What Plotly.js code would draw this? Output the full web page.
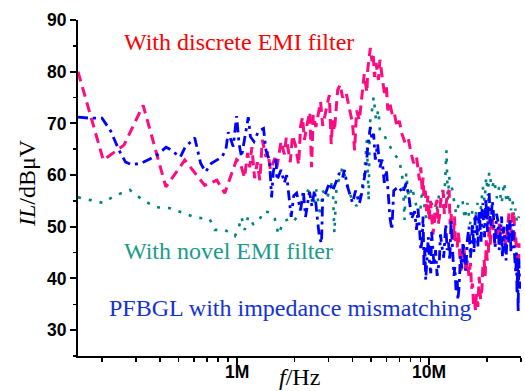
<!DOCTYPE html>
<html><head><meta charset="utf-8">
<script src="https://cdn.plot.ly/plotly-3.0.1.min.js"></script>
<style>body{margin:0;background:#fff}#chart{width:525px;height:391px}</style>
</head><body><div id="chart"></div>
<script>
// Frequencies in MHz, insertion level in dBuV
const discreteFreqMHz = [
  0.150, 0.203, 0.260, 0.327, 0.429, 0.538, 0.683, 0.790, 0.867, 0.930,
  1.00, 1.04, 1.10, 1.14, 1.17, 1.20, 1.24, 1.28, 1.32, 1.36,
  1.42, 1.45, 1.50, 1.58, 1.62, 1.70, 1.77, 1.81, 1.86, 1.90,
  1.95, 2.02, 2.10, 2.15, 2.20, 2.25, 2.32, 2.40, 2.45, 2.50,
  2.58, 2.65, 2.73, 2.80, 2.86, 2.95, 3.03, 3.10, 3.15, 3.22,
  3.35, 3.45, 3.55, 3.70, 3.85, 4.00, 4.10, 4.20, 4.34, 4.45,
  4.60, 4.75, 4.80, 4.95, 5.05, 5.12, 5.20, 5.30, 5.45, 5.55,
  5.70, 5.85, 6.00, 6.10, 6.25, 6.45, 6.60, 6.80, 7.00, 7.20,
  7.50, 7.80, 8.00, 8.30, 8.60,
  8.90, 9.05, 9.20, 9.30, 9.40, 9.55, 9.70, 9.85, 10.0, 10.15,
  10.3, 10.45, 10.6, 10.8, 11.0, 11.15, 11.3, 11.55, 11.8, 12.0,
  12.2, 12.45, 12.7, 12.85, 13.0, 13.2, 13.4, 13.55, 13.7, 14.0,
  14.15, 14.3, 14.55, 14.8, 15.0, 15.2, 15.5, 15.8, 16.1, 16.4,
  16.6, 16.8, 17.0, 17.2, 17.4, 17.6, 17.9, 18.2, 18.5, 18.8,
  19.0, 19.3, 19.55, 19.8, 20.0, 20.3, 20.5, 20.75, 21.0, 21.25,
  21.5, 22.0, 22.5, 22.8, 23.1, 23.5, 24.0, 24.5, 25.0, 25.5,
  26.0, 26.4, 26.8, 27.2, 27.6, 27.9, 28.2, 28.4, 28.6, 28.8,
  29.0, 29.3
];
const discreteDb = [
  80.0, 62.9, 65.8, 73.5, 57.7, 62.9, 58.0, 59.0, 56.5, 59.6,
  63.0, 62.5, 59.5, 64.3, 61.5, 65.4, 59.4, 62.5, 59.0, 66.8,
  63.5, 64.5, 61.0, 63.3, 61.5, 66.5, 64.0, 67.2, 64.5, 62.5,
  67.7, 65.8, 62.0, 69.5, 71.2, 66.8, 69.7, 72.2, 61.5, 71.6,
  69.3, 72.0, 74.2, 69.5, 71.0, 73.0, 75.5, 66.0, 70.6, 68.5,
  76.5, 77.5, 75.0, 76.0, 73.0, 70.0, 64.8, 72.5, 70.6, 74.0,
  79.5, 76.0, 80.5, 84.6, 82.0, 83.5, 79.0, 81.7, 78.4, 82.3,
  78.4, 75.9, 77.0, 72.5, 73.9, 71.5, 72.0, 69.3, 70.5, 68.1,
  66.2, 67.0, 64.8, 62.3, 63.5,
  59.0, 61.5, 57.0, 59.5, 55.7, 57.0, 53.0, 56.0, 51.3, 55.0,
  52.6, 48.5, 50.0, 54.0, 55.2, 50.5, 51.9, 56.0, 57.1, 52.5,
  53.8, 56.5, 57.1, 50.5, 52.6, 47.5, 48.8, 52.0, 46.5, 46.1,
  49.0, 47.4, 41.5, 42.2, 46.5, 45.5, 41.0, 43.5, 40.5, 43.0,
  38.0, 39.0, 35.0, 35.8, 33.9, 37.0, 34.5, 40.3, 36.0, 38.0,
  42.0, 43.5, 40.5, 47.4, 43.5, 44.5, 51.9, 46.5, 48.8, 52.0,
  49.5, 46.5, 47.4, 50.5, 50.7, 46.5, 48.0, 50.0, 46.5, 49.4,
  52.6, 48.0, 50.0, 53.0, 51.9, 47.0, 48.0, 44.0, 41.6, 44.5,
  39.0, 46.8
];

const pfbglFreqMHz = [
  0.150, 0.175, 0.200, 0.222, 0.245, 0.265, 0.285, 0.320, 0.354, 0.390,
  0.430, 0.450, 0.510, 0.540, 0.606, 0.630, 0.650, 0.690, 0.740, 0.840,
  0.880, 0.905, 0.930, 0.960, 1.00, 1.03, 1.06, 1.09, 1.15, 1.18,
  1.23, 1.30, 1.38, 1.42, 1.48, 1.52, 1.55, 1.60, 1.62, 1.70,
  1.77, 1.82, 1.88, 1.92, 1.98, 2.05, 2.15, 2.22, 2.28, 2.39,
  2.46, 2.54, 2.62, 2.69, 2.76, 2.80, 2.90, 3.03, 3.15, 3.30,
  3.42, 3.55, 3.63, 3.75, 3.85, 4.00, 4.15, 4.34, 4.50, 4.70,
  4.80, 4.95, 5.05, 5.15, 5.25, 5.40, 5.55, 5.70, 5.85, 6.00,
  6.15, 6.25, 6.40, 6.55, 6.95, 7.30, 7.60, 7.90, 8.10, 8.40,
  8.60, 8.75, 8.90, 9.05, 9.20, 9.30, 9.40, 9.50, 9.60, 9.75,
  9.90, 10.05, 10.2, 10.3, 10.4, 10.6, 10.8, 11.0, 11.3, 11.45,
  11.6, 11.9, 12.2, 12.4, 12.6, 12.8, 13.0, 13.15, 13.3, 13.45,
  13.6, 13.8, 14.0, 14.1, 14.3, 14.55, 14.8, 15.0, 15.2, 15.5,
  15.8, 16.1, 16.4, 16.8, 17.1, 17.35, 17.6, 17.9, 18.2, 18.4,
  18.6, 18.8, 19.0, 19.2, 19.4, 19.7, 19.9, 20.1, 20.3, 20.5,
  20.75, 21.0, 21.25, 21.5, 21.75, 22.0, 22.4, 22.8, 23.1, 23.5,
  23.8, 24.0, 24.4, 24.8, 25.1, 25.5, 25.9, 26.3, 26.6, 27.0,
  27.3, 27.6, 27.9, 28.2, 28.4, 28.6, 28.8, 29.0, 29.2, 29.3,
  29.6
];
const pfbglDb = [
  71.2, 71.0, 71.0, 68.5, 64.8, 62.5, 62.0, 62.3, 63.1, 64.0,
  65.4, 65.0, 63.5, 65.4, 67.2, 64.5, 62.3, 60.6, 62.3, 63.5,
  65.0, 68.3, 66.8, 65.5, 71.4, 66.0, 63.5, 66.0, 71.2, 67.4,
  66.5, 68.5, 69.0, 64.8, 62.9, 55.7, 60.5, 63.5, 59.0, 61.0,
  58.5, 60.0, 55.7, 51.9, 56.0, 56.5, 53.2, 57.0, 51.9, 56.8,
  54.0, 57.1, 52.0, 48.0, 46.8, 55.5, 56.5, 58.5, 56.9, 59.0,
  60.4, 59.5, 61.0, 58.0, 56.5, 54.6, 57.0, 54.5, 57.0, 61.5,
  65.4, 69.3, 66.8, 68.0, 63.0, 66.0, 61.5, 63.0, 58.5, 61.0,
  55.7, 51.9, 49.4, 57.0, 57.8, 56.5, 58.5, 55.2, 51.5, 53.0,
  49.4, 53.5, 50.0, 45.5, 47.5, 52.0, 42.2, 46.0, 39.7, 44.5,
  48.0, 43.0, 41.0, 49.0, 47.0, 42.5, 45.5, 40.5, 43.5, 48.5,
  46.8, 44.0, 50.5, 45.5, 47.0, 43.5, 51.3, 47.5, 46.0, 40.5,
  42.2, 37.5, 39.7, 35.8, 38.3, 44.5, 42.0, 47.0, 45.3, 41.5,
  47.5, 50.0, 44.0, 50.7, 45.0, 51.5, 52.5, 46.0, 53.2, 49.0,
  47.0, 53.0, 54.6, 50.5, 48.0, 55.5, 51.0, 49.0, 54.0, 56.5,
  51.5, 50.0, 55.0, 53.8, 49.0, 46.0, 52.5, 51.0, 45.5, 49.4,
  52.0, 44.0, 50.0, 47.0, 43.5, 50.5, 47.0, 51.3, 45.0, 48.5,
  50.5, 46.0, 43.0, 41.0, 45.0, 37.0, 42.0, 33.5, 44.0, 41.5,
  38.0
];

const novelFreqMHz = [
  0.150, 0.173, 0.203, 0.232, 0.279, 0.325, 0.380, 0.450, 0.530, 0.610,
  0.725, 0.770, 0.867, 0.980, 1.02, 1.06, 1.10, 1.15, 1.22, 1.30,
  1.38, 1.48, 1.58, 1.65, 1.75, 1.87, 1.98, 2.10, 2.20, 2.30,
  2.40, 2.50, 2.60, 2.72, 2.80, 2.95, 3.15, 3.22, 3.30, 3.55,
  3.70, 3.95, 4.20, 4.40, 4.60, 4.75, 4.85, 4.92, 5.05, 5.15,
  5.30, 5.45, 5.55, 5.80, 6.00, 6.30, 6.60, 7.00, 7.30, 7.45,
  7.60, 7.88, 8.10, 8.40, 8.60, 9.00, 9.20, 9.40, 9.70, 10.3,
  10.8, 11.3, 11.8, 12.1, 12.3, 12.5, 12.7, 13.2, 13.8, 14.3,
  14.9, 15.3, 15.8, 16.3, 16.8, 17.3, 17.8, 18.4, 19.0, 19.4,
  19.8, 20.2, 20.5, 21.2, 21.8, 22.5, 23.1, 23.8, 24.5, 25.3,
  26.0, 26.6, 27.1, 27.6, 28.1, 28.6, 29.3
];
const novelDb = [
  55.7, 55.2, 54.6, 56.0, 57.1, 55.2, 53.8, 53.6, 52.6, 51.8,
  51.5, 49.4, 49.4, 48.2, 49.5, 51.9, 49.4, 52.0, 50.5, 51.0,
  53.0, 52.8, 51.5, 48.5, 51.0, 51.5, 51.0, 52.5, 54.6, 57.1,
  56.8, 54.0, 57.2, 52.0, 57.0, 55.5, 59.0, 48.8, 57.5, 61.5,
  59.0, 55.5, 54.0, 56.0, 60.0, 66.8, 55.0, 70.0, 72.6, 75.1,
  70.6, 72.6, 68.5, 68.0, 66.8, 65.5, 64.0, 62.9, 59.0, 51.3,
  60.4, 54.6, 57.7, 55.7, 53.8, 53.2, 57.1, 54.6, 51.3, 54.6,
  52.0, 56.5, 53.5, 58.5, 64.8, 55.0, 59.6, 57.1, 52.5, 54.6,
  55.2, 51.5, 54.6, 50.5, 53.2, 51.0, 54.6, 52.0, 57.7, 55.0,
  59.6, 56.0, 60.6, 57.5, 59.0, 55.5, 57.7, 54.5, 58.6, 54.6,
  56.5, 53.2, 55.0, 51.9, 53.5, 50.7, 52.0
];

const xTickVals = [1e6, 1e7];
const xTickText = ['1M', '10M'];
const xMinorVals = [2e5,3e5,4e5,5e5,6e5,7e5,8e5,9e5,2e6,3e6,4e6,5e6,6e6,7e6,8e6,9e6,2e7,3e7];
const yTickVals = [30, 40, 50, 60, 70, 80, 90];

const toHz = a => a.map(f => f * 1e6);

const traces = [
  {x: toHz(novelFreqMHz), y: novelDb, type: 'scatter', mode: 'lines',
   line: {color: '#008080', width: 2.6, dash: '3px,8px'}, hoverinfo: 'skip'},
  {x: toHz(discreteFreqMHz), y: discreteDb, type: 'scatter', mode: 'lines',
   line: {color: '#ff0a80', width: 3, dash: '10px,6px'}, hoverinfo: 'skip'},
  {x: toHz(pfbglFreqMHz), y: pfbglDb, type: 'scatter', mode: 'lines',
   line: {color: '#0000ff', width: 2.8, dash: '10px,5px,3px,5px'}, hoverinfo: 'skip'}
];

const tickFont = {family: 'Liberation Sans, Arial, sans-serif', size: 17.5, weight: 'bold', color: '#000'};
const serif = 'Liberation Serif, Times New Roman, serif';

// x tick labels placed at the axis tick values (log-axis annotation coordinates)
const xTickLabelAnnotations = xTickVals.map((v, i) => ({
  text: xTickText[i], xref: 'x', yref: 'paper', x: Math.log10(v), y: -0.049,
  showarrow: false, xanchor: 'center', yanchor: 'middle', font: tickFont
}));

const layout = {
  width: 525, height: 391,
  margin: {l: 78, r: 4, t: 20, b: 35},
  paper_bgcolor: '#fff', plot_bgcolor: '#fff',
  showlegend: false,
  xaxis: {
    type: 'log',
    range: [Math.log10(1.5e5), Math.log10(3e7)],
    tickmode: 'array', tickvals: xTickVals, ticktext: xTickText,
    showticklabels: false,
    ticks: 'outside', ticklen: 7, tickwidth: 2, tickcolor: '#000',
    showline: true, linewidth: 2, linecolor: '#000',
    showgrid: false, zeroline: false,
    minor: {tickmode: 'array', tickvals: xMinorVals, ticks: 'outside', ticklen: 4, tickwidth: 1.5, tickcolor: '#000', showgrid: false}
  },
  yaxis: {
    range: [25, 90],
    tickmode: 'array', tickvals: yTickVals,
    ticks: 'outside', ticklen: 6, tickwidth: 2, tickcolor: '#000',
    showline: true, linewidth: 2, linecolor: '#000',
    showgrid: false, zeroline: false,
    tickfont: tickFont,
    minor: {dtick: 5, tick0: 25, ticks: 'outside', ticklen: 3, tickwidth: 1.5, tickcolor: '#000', showgrid: false}
  },
  annotations: xTickLabelAnnotations.concat([
    {text: '<i>IL</i>/dBμV', xref: 'paper', yref: 'paper', x: -0.115, y: 0.515,
     textangle: -90, showarrow: false, xanchor: 'center', yanchor: 'middle',
     font: {family: serif, size: 24, color: '#000'}},
    {text: '<i>f</i>/Hz', xref: 'paper', yref: 'paper', x: 0.501, y: -0.062,
     showarrow: false, xanchor: 'center', yanchor: 'middle',
     font: {family: serif, size: 24, color: '#000'}},
    {text: 'With discrete EMI filter', xref: 'paper', yref: 'paper', x: 0.0993, y: 0.9345,
     showarrow: false, xanchor: 'left', yanchor: 'middle',
     font: {family: serif, size: 24, color: '#ff0000'}},
    {text: 'With novel EMI filter', xref: 'paper', yref: 'paper', x: 0.0993, y: 0.3125,
     showarrow: false, xanchor: 'left', yanchor: 'middle',
     font: {family: serif, size: 24, color: '#1a9a8a'}},
    {text: 'PFBGL with impedance mismatching', xref: 'paper', yref: 'paper', x: 0.0655, y: 0.143,
     showarrow: false, xanchor: 'left', yanchor: 'middle',
     font: {family: serif, size: 24, color: '#1432d2'}}
  ])
};

Plotly.newPlot('chart', traces, layout, {staticPlot: true, displayModeBar: false});
</script>
</body></html>
